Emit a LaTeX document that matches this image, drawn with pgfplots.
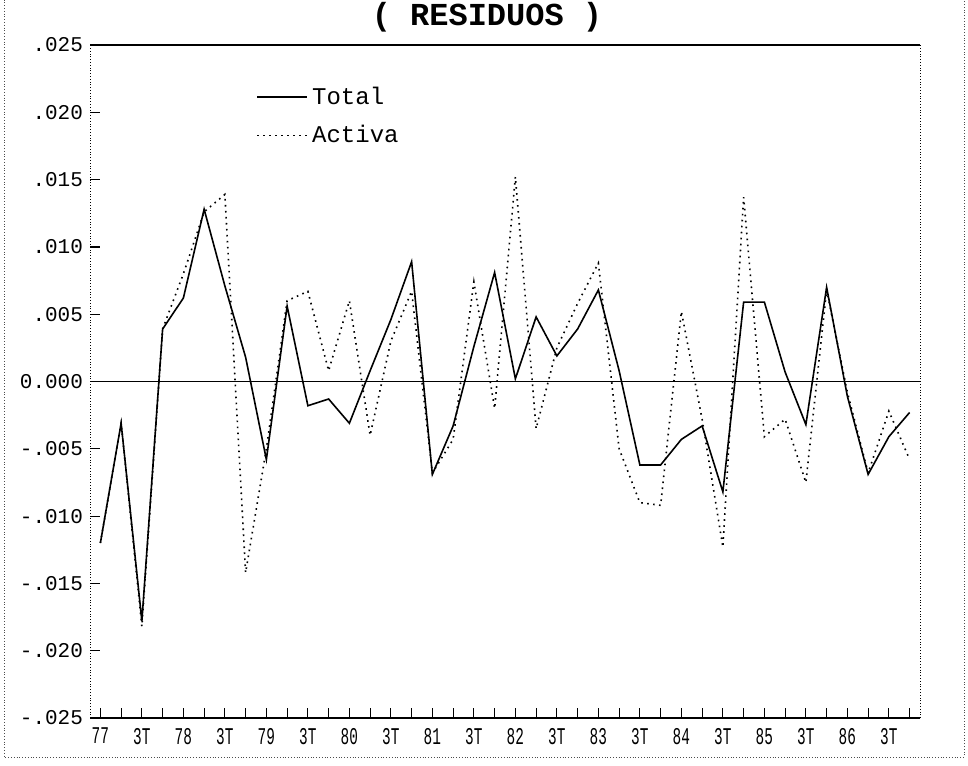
\documentclass[border=0pt]{standalone}
\usepackage{fontspec}
\setmainfont{Liberation Mono}
\newfontfamily\narrowmono[FakeStretch=0.6]{Liberation Mono}
\usepackage{pgfplots}
\usepackage{pgfplotstable}
\pgfplotsset{compat=1.18}

% quarterly residuals, 1977 Q1 .. 1986 Q4 (q = 0..39)
\pgfplotstableread{
q  total    activa
0  -0.0120  -0.0120
1  -0.0031  -0.0031
2  -0.0178  -0.0182
3   0.0039   0.0039
4   0.0062   0.0080
5   0.0128   0.0126
6   0.0071   0.0139
7   0.0018  -0.0142
8  -0.0058  -0.0050
9   0.0056   0.0060
10 -0.0018   0.0067
11 -0.0013   0.0008
12 -0.0031   0.0060
13  0.0008  -0.0040
14  0.0046   0.0030
15  0.0089   0.0067
16 -0.0069  -0.0068
17 -0.0033  -0.0043
18  0.0026   0.0074
19  0.0081  -0.0020
20  0.0002   0.0152
21  0.0048  -0.0035
22  0.0019   0.0025
23  0.0039   0.0058
24  0.0068   0.0088
25  0.0008  -0.0050
26 -0.0062  -0.0090
27 -0.0062  -0.0092
28 -0.0043   0.0052
29 -0.0033  -0.0028
30 -0.0082  -0.0123
31  0.0059   0.0137
32  0.0059  -0.0041
33  0.0007  -0.0028
34 -0.0032  -0.0075
35  0.0070   0.0068
36 -0.0011  -0.0008
37 -0.0069  -0.0068
38 -0.0041  -0.0022
39 -0.0023  -0.0058
}\residuos

\begin{document}
\begin{tikzpicture}
\useasboundingbox (-45pt,-23.5pt) rectangle (439pt,359pt);
% dotted page frame
\draw[densely dotted, black!70] (-43pt,362pt) -- (-43pt,-19.5pt) -- (437pt,-19.5pt) -- (437pt,362pt);
\node[font=\fontsize{16}{16}\selectfont\bfseries, anchor=north, inner sep=0pt] at (198.5pt,358pt) {( RESIDUOS )};
\begin{axis}[
    scale only axis,
    width=415pt,
    height=336.5pt,
    xmin=-0.5, xmax=39.5,
    ymin=-0.025, ymax=0.025,
    scaled y ticks=false,
    separate axis lines,
    x axis line style={line width=1pt},
    y axis line style={densely dotted},
    xtick={0,2,...,38},
    xticklabels={77,3T,78,3T,79,3T,80,3T,81,3T,82,3T,83,3T,84,3T,85,3T,86,3T},
    minor xtick={1,3,...,39},
    ytick={-0.025,-0.020,-0.015,-0.010,-0.005,0,0.005,0.010,0.015,0.020,0.025},
    yticklabels={-.025,-.020,-.015,-.010,-.005,0.000,.005,.010,.015,.020,.025},
    xtick pos=bottom,
    ytick pos=left,
    tick align=inside,
    major tick length=5pt,
    minor tick length=5pt,
    tick style={black, line width=0.6pt},
    xticklabel style={font=\narrowmono\fontsize{12}{12}\selectfont, yshift=-1.5pt},
    yticklabel style={font=\fontsize{10.5}{10.5}\selectfont},
    legend style={draw=none, fill=none, at={(0.193,0.95)}, anchor=north west,
        font=\fontsize{12}{12}\selectfont, row sep=5pt},
    legend cell align=left,
    legend image code/.code={\draw[#1] (0pt,0pt) -- (25pt,0pt);},
]
\draw[line width=0.9pt] (axis cs:-0.5,0) -- (axis cs:39.5,0);

\addplot[black, line width=0.8pt] table[x=q, y=total] {\residuos};
\addlegendentry{Total}

\addplot[black, line width=0.8pt, dash pattern=on 0.8pt off 2.2pt] table[x=q, y=activa] {\residuos};
\addlegendentry{Activa}
\end{axis}
\end{tikzpicture}
\end{document}
